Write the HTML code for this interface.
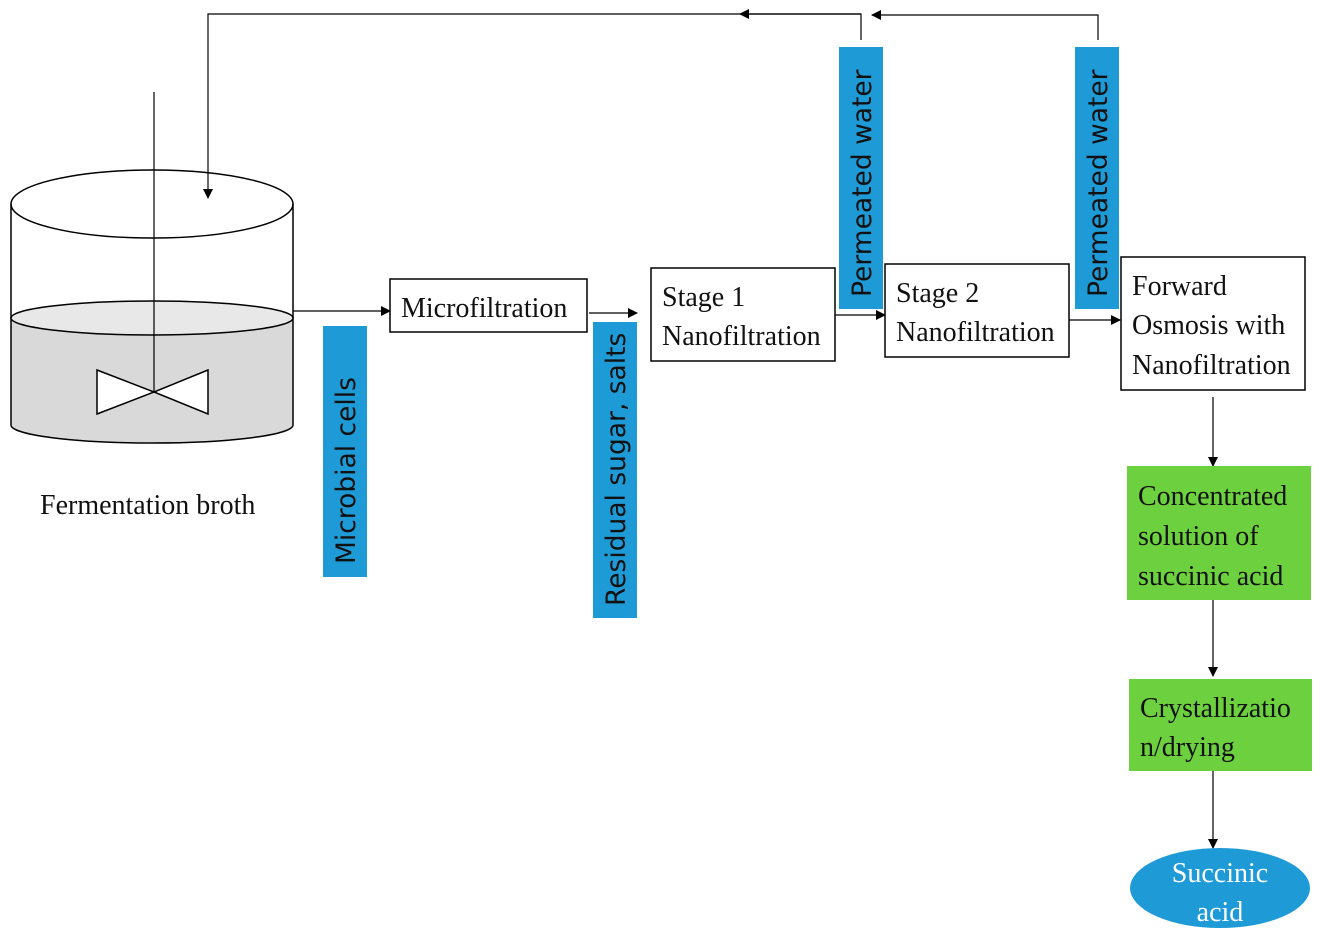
<!DOCTYPE html>
<html><head><style>
body{margin:0;background:#fff}
svg{display:block}
.s{font-family:"Liberation Serif",serif;font-size:28px;fill:#111}
.b{font-family:"DejaVu Sans","Liberation Sans",sans-serif;font-size:26.5px;fill:#111}
</style></head><body>
<svg width="1322" height="941" viewBox="0 0 1322 941" xmlns="http://www.w3.org/2000/svg">
<defs><marker id="a" markerWidth="10" markerHeight="10" refX="9" refY="5" orient="auto" markerUnits="userSpaceOnUse"><path d="M0,0 L10,5 L0,10 z" fill="#000"/></marker></defs>
<g stroke="#000" stroke-width="1.5" fill="none">
<path d="M11,318 L11,425 A141,18 0 0 0 293,425 L293,318 Z" fill="#d9d9d9"/>
<ellipse cx="152" cy="318" rx="141" ry="17" fill="#e8e8e8"/>
<ellipse cx="152" cy="204" rx="141" ry="34" fill="#fff"/>
<line x1="11" y1="204" x2="11" y2="318"/><line x1="293" y1="204" x2="293" y2="318"/>
<line x1="154" y1="92" x2="154" y2="392" stroke-width="1.2"/>
<path d="M97,370 L154,392 L97,414 Z M208,370 L154,392 L208,414 Z" fill="#fff"/>
<polyline points="861,40 861,14 208,14 208,198" stroke-width="1.2" marker-end="url(#a)"/>
<line x1="861" y1="14" x2="740" y2="14" stroke-width="1.2" marker-end="url(#a)"/>
<polyline points="1098,40 1098,15 872,15" stroke-width="1.2" marker-end="url(#a)"/>
<line x1="293" y1="311" x2="390" y2="311" stroke-width="1.2" marker-end="url(#a)"/>
<line x1="589" y1="313" x2="637" y2="313" stroke-width="1.2" marker-end="url(#a)"/>
<line x1="835" y1="315" x2="885" y2="315" stroke-width="1.2" marker-end="url(#a)"/>
<line x1="1069" y1="320" x2="1120" y2="320" stroke-width="1.2" marker-end="url(#a)"/>
<line x1="1213" y1="397" x2="1213" y2="466" stroke-width="1.2" marker-end="url(#a)"/>
<line x1="1213" y1="600" x2="1213" y2="676" stroke-width="1.2" marker-end="url(#a)"/>
<line x1="1213" y1="771" x2="1213" y2="848" stroke-width="1.2" marker-end="url(#a)"/>
<rect x="390" y="279" width="197" height="53" fill="#fff"/>
<rect x="651" y="268" width="184" height="93" fill="#fff"/>
<rect x="885" y="264" width="184" height="93" fill="#fff"/>
<rect x="1121" y="257" width="184" height="133" fill="#fff"/>
</g>
<rect x="323" y="326" width="44" height="251" fill="#1e9bd7"/>
<rect x="593" y="322" width="44" height="296" fill="#1e9bd7"/>
<rect x="839" y="47" width="44" height="262" fill="#1e9bd7"/>
<rect x="1075" y="47" width="44" height="262" fill="#1e9bd7"/>
<rect x="1127" y="466" width="184" height="134" fill="#6dd13f"/>
<rect x="1129" y="679" width="183" height="92" fill="#6dd13f"/>
<ellipse cx="1220" cy="888" rx="90" ry="40" fill="#1e9bd7"/>
<text class="s" x="40" y="514">Fermentation broth</text>
<text class="s" x="401" y="317">Microfiltration</text>
<text class="s" x="662" y="306">Stage 1</text><text class="s" x="662" y="345">Nanofiltration</text>
<text class="s" x="896" y="302">Stage 2</text><text class="s" x="896" y="341">Nanofiltration</text>
<text class="s" x="1132" y="295">Forward</text><text class="s" x="1132" y="334">Osmosis with</text><text class="s" x="1132" y="374">Nanofiltration</text>
<text class="s" x="1138" y="505">Concentrated</text><text class="s" x="1138" y="545">solution of</text><text class="s" x="1138" y="585">succinic acid</text>
<text class="s" x="1140" y="717">Crystallizatio</text><text class="s" x="1140" y="756">n/drying</text>
<text class="s" x="1220" y="882" text-anchor="middle" style="fill:#fff">Succinic</text>
<text class="s" x="1220" y="921" text-anchor="middle" style="fill:#fff">acid</text>
<text class="b" transform="translate(355,564) rotate(-90)">Microbial cells</text>
<text class="b" transform="translate(625,606) rotate(-90)">Residual sugar, salts</text>
<text class="b" transform="translate(871,297) rotate(-90)">Permeated water</text>
<text class="b" transform="translate(1107,297) rotate(-90)">Permeated water</text>
</svg>
</body></html>
